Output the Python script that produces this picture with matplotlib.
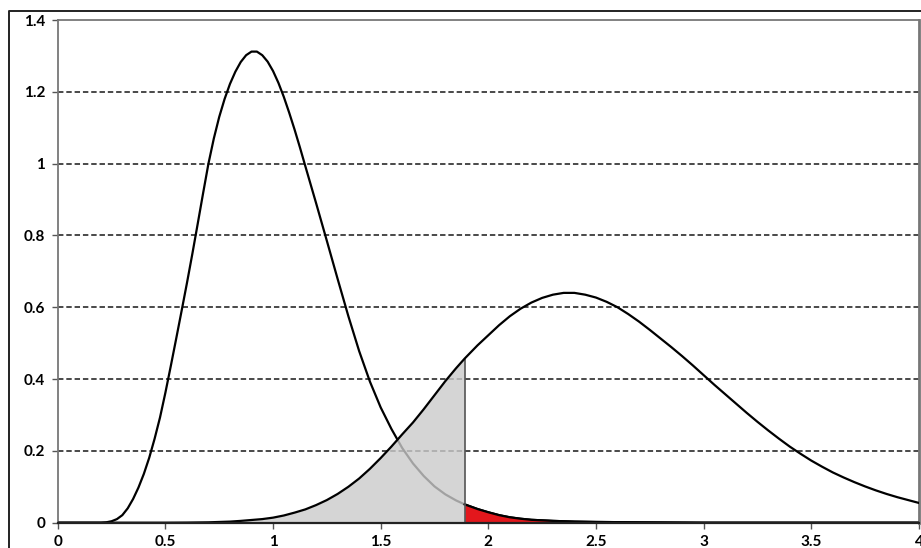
import numpy as np
import matplotlib
matplotlib.use('Agg')
import matplotlib.pyplot as plt
from matplotlib.lines import Line2D

# left curve
x_left = [0.0, 0.20, 0.225, 0.25, 0.275, 0.30, 0.325, 0.35, 0.375, 0.40, 0.425,
          0.45, 0.475, 0.50, 0.525, 0.55, 0.575, 0.60, 0.625, 0.65, 0.675,
          0.70, 0.725, 0.75, 0.775, 0.80, 0.825, 0.85, 0.875, 0.90, 0.925,
          0.95, 0.975, 1.00, 1.025, 1.05, 1.075, 1.10, 1.125, 1.15, 1.20,
          1.25, 1.30, 1.35, 1.40, 1.45, 1.50, 1.55, 1.60, 1.65, 1.70, 1.75,
          1.80, 1.85, 1.89, 1.95, 2.00, 2.05, 2.10, 2.15, 2.20, 2.30, 2.40,
          2.50, 2.70, 3.00, 4.00]
y_left = [0.0, 0.000, 0.001, 0.004, 0.010, 0.021, 0.040, 0.066, 0.098, 0.136,
          0.181, 0.234, 0.293, 0.362, 0.436, 0.512, 0.589, 0.667, 0.748,
          0.832, 0.917, 1.000, 1.070, 1.130, 1.180, 1.222, 1.256, 1.283,
          1.302, 1.312, 1.312, 1.302, 1.284, 1.258, 1.225, 1.186, 1.142,
          1.095, 1.045, 0.993, 0.890, 0.785, 0.679, 0.575, 0.478, 0.393,
          0.321, 0.261, 0.208, 0.165, 0.130, 0.101, 0.079, 0.062, 0.051,
          0.038, 0.029, 0.021, 0.015, 0.011, 0.008, 0.005, 0.003, 0.002,
          0.001, 0.000, 0.000]

# right curve
x_right = [0.0, 0.50, 0.60, 0.70, 0.80, 0.85, 0.90, 0.95, 1.00, 1.05, 1.10,
           1.15, 1.20, 1.25, 1.30, 1.35, 1.40, 1.45, 1.50, 1.55, 1.60, 1.65,
           1.70, 1.75, 1.80, 1.85, 1.89, 1.95, 2.00, 2.05, 2.10, 2.15, 2.20,
           2.25, 2.30, 2.35, 2.40, 2.45, 2.50, 2.55, 2.60, 2.65, 2.70, 2.75,
           2.80, 2.85, 2.90, 2.95, 3.00, 3.05, 3.10, 3.15, 3.20, 3.25, 3.30,
           3.35, 3.40, 3.45, 3.50, 3.55, 3.60, 3.65, 3.70, 3.75, 3.80, 3.85,
           3.90, 3.95, 4.00]
y_right = [0.0, 0.000, 0.0003, 0.001, 0.003, 0.005, 0.0075, 0.010, 0.014,
           0.020, 0.028, 0.037, 0.049, 0.063, 0.080, 0.100, 0.123, 0.150,
           0.180, 0.212, 0.246, 0.279, 0.316, 0.355, 0.394, 0.430, 0.457,
           0.494, 0.522, 0.550, 0.575, 0.596, 0.613, 0.626, 0.635, 0.640,
           0.640, 0.635, 0.627, 0.615, 0.600, 0.581, 0.560, 0.537, 0.513,
           0.489, 0.464, 0.438, 0.411, 0.384, 0.358, 0.332, 0.306, 0.281,
           0.257, 0.234, 0.212, 0.192, 0.173, 0.156, 0.140, 0.126, 0.113,
           0.101, 0.090, 0.080, 0.071, 0.063, 0.055]

cutoff = 1.89
x_ticks = [0, 0.5, 1, 1.5, 2, 2.5, 3, 3.5, 4]
x_labels = ['0', '0.5', '1', '1.5', '2', '2.5', '3', '3.5', '4']
y_ticks = [0, 0.2, 0.4, 0.6, 0.8, 1, 1.2, 1.4]
y_labels = ['0', '0.2', '0.4', '0.6', '0.8', '1', '1.2', '1.4']

plt.rcParams['font.family'] = ['Lato', 'DejaVu Sans']

fig = plt.figure(figsize=(9.21, 5.48), dpi=100)
ax = fig.add_axes([0.0627, 0.0462, 0.9350, 0.9173])

xl = np.array(x_left)
yl = np.array(y_left)
xr = np.array(x_right)
yr = np.array(y_right)

for v in y_ticks[1:-1]:
    ax.axhline(v, color='#3a3a3a', lw=1.3, ls=(0, (3, 1.6)), zorder=1)

ax.plot(xl, yl, color='black', lw=1.6, zorder=2, solid_joinstyle='round')

m = xr <= cutoff
ax.fill_between(xr[m], yr[m], 0, color='#cbcbcb', alpha=0.8, lw=0, zorder=3)
m2 = xl >= cutoff
ax.fill_between(xl[m2], yl[m2], 0, color='#e3171c', lw=0, zorder=3)
ax.plot(xl[m2], yl[m2], color='black', lw=1.6, zorder=4)
ax.vlines(cutoff, 0, np.interp(cutoff, xr, yr), color='#555555', lw=1.2, zorder=4)

ax.plot(xr, yr, color='black', lw=1.6, zorder=5, solid_joinstyle='round')

ax.set_xlim(0, 4)
ax.set_ylim(0, 1.4)
ax.set_xticks(x_ticks)
ax.set_xticklabels(x_labels, fontweight='bold', fontsize=11)
ax.set_yticks(y_ticks)
ax.set_yticklabels(y_labels, fontweight='bold', fontsize=11)
ax.tick_params(axis='x', length=4, width=1, color='#555555', pad=5)
ax.tick_params(axis='y', length=4, width=1, color='#555555', pad=5)

for s in ['left', 'top', 'right']:
    ax.spines[s].set_color('#777777')
    ax.spines[s].set_linewidth(1.3)
ax.spines['right'].set_linewidth(2)
ax.spines['bottom'].set_color('#222222')
ax.spines['bottom'].set_linewidth(1.6)
ax.spines['bottom'].set_zorder(6)

# outer chart frame
fy = (548 - 11) / 548
fx = 8.5 / 921
fig.add_artist(Line2D([fx, fx, 1.0], [0, fy, fy], transform=fig.transFigure,
                      color='#222222', lw=1.4))

fig.savefig('out.png', dpi=100)
